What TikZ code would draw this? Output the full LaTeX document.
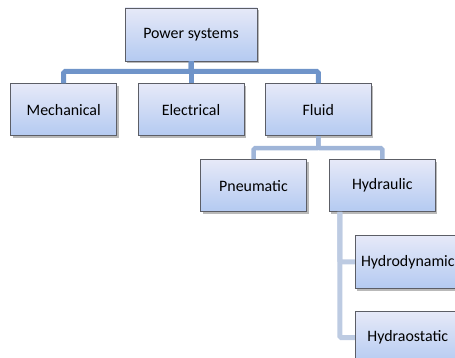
\documentclass[tikz,border=0pt]{standalone}
\usepackage{fontspec}
\setmainfont{Carlito}
\usepackage{xcolor}
\usepackage{tikz}
\usetikzlibrary{positioning, shadows}

\definecolor{boxtop}{HTML}{E6E9F8}
\definecolor{boxbottom}{HTML}{B4CAF1}
\definecolor{boxline}{HTML}{5C5E66}
\definecolor{barone}{HTML}{6F94C9}
\definecolor{bartwo}{HTML}{9FB5D8}
\definecolor{barthree}{HTML}{BDCBE2}

\begin{document}
\begin{tikzpicture}[
    node distance=22pt and 20.5pt,
    level_box/.style={
        rectangle,
        draw=boxline,
        top color=boxtop,
        bottom color=boxbottom,
        line width=0.8pt,
        minimum width=106pt,
        minimum height=52pt,
        inner sep=2pt,
        align=center,
        font=\fontsize{15.9}{18}\selectfont,
        drop shadow={shadow xshift=2pt, shadow yshift=-2.5pt, fill=black!50, opacity=0.55}
    },
    bar/.style={
        line width=#1,
        line cap=butt,
        rounded corners=1.5pt
    }
]

    \useasboundingbox (0,0) rectangle (455pt,-358pt);

    % Tree Nodes
    \node (root) [level_box, minimum width=132pt, minimum height=53pt] at (191pt,-34.5pt) {Power systems};

    \node (elec) [level_box, below=22pt of root] {Electrical};
    \node (mech) [level_box, left=20.5pt of elec] {Mechanical};
    \node (fluid) [level_box, right=20.5pt of elec] {Fluid};

    \node (pneu) [level_box, below left=23pt and -42pt of fluid] {Pneumatic};
    \node (hydr) [level_box, right=22pt of pneu] {Hydraulic};

    \node (hydrodyn) [level_box, minimum width=105pt, minimum height=53pt, below right=23pt and 26pt of hydr.south west] {Hydrodynamic};
    \node (hydrostat) [level_box, minimum width=105pt, minimum height=53pt, below=22pt of hydrodyn] {Hydraostatic};

    % Level 1 Connections
    \draw [bar=5pt, draw=barone] (root.south) -- ++(0,-10pt) -| (mech.north);
    \draw [bar=5pt, draw=barone] (root.south) -- ++(0,-10pt) -| (elec.north);
    \draw [bar=5pt, draw=barone] (root.south) -- ++(0,-10pt) -| (fluid.north);

    % Level 2 Connections
    \draw [bar=4.5pt, draw=bartwo] (fluid.south) -- ++(0,-12pt) -| (pneu.north);
    \draw [bar=4.5pt, draw=bartwo] (fluid.south) -- ++(0,-12pt) -| (hydr.north);

    % Level 3 Connections
    \draw [bar=5pt, draw=barthree] ([xshift=11pt]hydr.south west) |- (hydrodyn.west);
    \draw [bar=5pt, draw=barthree] ([xshift=11pt]hydr.south west) |- (hydrostat.west);

\end{tikzpicture}
\end{document}
